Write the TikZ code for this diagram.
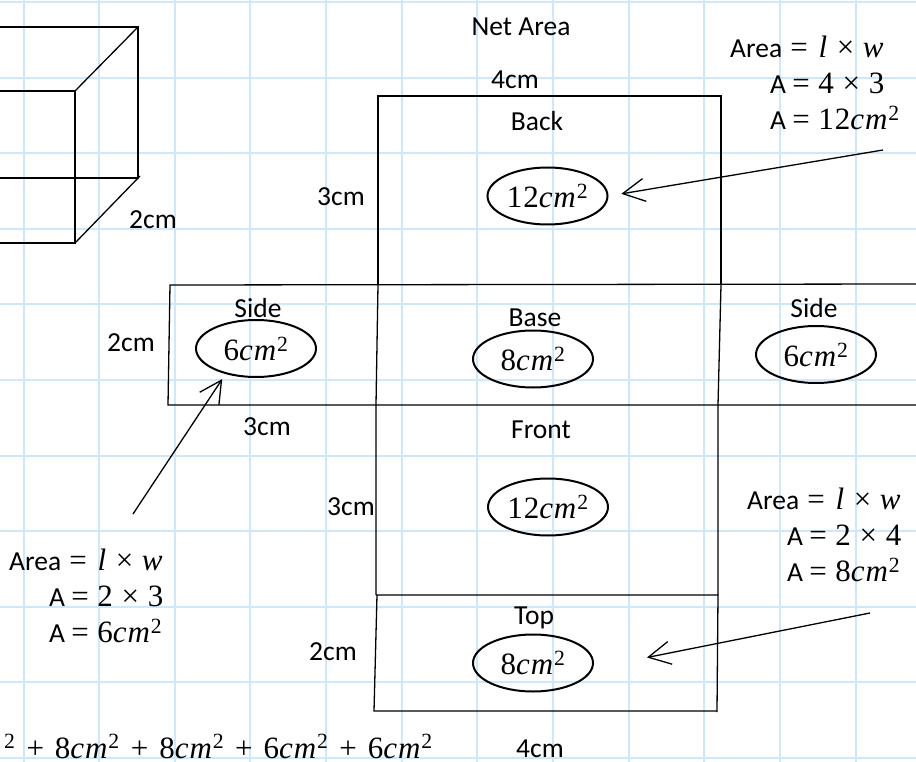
\documentclass[tikz,border=0pt]{standalone}
\usepackage{fontspec}
\setmainfont{Carlito}
\newfontfamily\mfont[Scale=1.127,LetterSpace=3]{Liberation Serif}
\usetikzlibrary{shapes.geometric,arrows.meta}

\definecolor{gridblue}{RGB}{204,232,255}

\newcommand{\sq}[1]{{\mfont #1\textit{cm}\textsuperscript{2}}}
\newcommand{\arealine}{Area {\mfont\hspace{2pt}=\hspace{2pt} \textit{l} × \textit{w}}}
\newcommand{\plusgap}{{\mfont\hspace{11pt}+\hspace{11pt}}}

\tikzset{
	txt/.style={inner sep=0pt,font=\fontsize{27.5}{36}\selectfont},
	calc/.style={txt,anchor=west,align=left},
	oval/.style={shape=ellipse,draw=black,line width=2pt,inner sep=0pt,minimum width=120pt,minimum height=57pt,font=\fontsize{27.5}{36}\selectfont},
	outline/.style={draw=black,line width=1.3pt},
	pointer/.style={draw=black,line width=1.3pt,-{Straight Barb[length=22pt,width=23pt,line width=1.3pt]}}
}

\begin{document}
\begin{tikzpicture}[x=1pt,y=-1pt]
	\useasboundingbox (0,0) rectangle (916,762);
	\fill[white] (0,0) rectangle (916,762);

	\foreach \k in {0,...,11}
		\draw[gridblue,line width=2pt] ({23.5+75.65*\k},0) -- ({23.5+75.65*\k},762);
	\foreach \k in {0,...,10}
		\draw[gridblue,line width=2pt] (0,{2+75.6*\k}) -- (916,{2+75.6*\k});

	% cuboid
	\path[outline] (0,27) -- (138,27) -- (138,178) -- (0,178);
	\path[outline] (0,91) -- (75,91) -- (75,243) -- (0,243);
	\path[outline] (75,91) -- (138,27);
	\path[outline] (75,243) -- (140,176);

	% net
	\path[outline] (378,285) -- (378,96) -- (721,96) -- (721,285);
	\path[outline] (916,284) -- (170,285) -- (168,405) -- (916,405);
	\path[outline] (378,285) -- (376,405) -- (376,595);
	\path[outline] (721,285) -- (718,405) -- (718,595);
	\path[outline] (376,595) -- (718,595) -- (717,712);
	\path[outline] (377,595) -- (374,711) -- (717,711);

	\node[txt] (netTitle) at (521,27) {Net Area};
	\node[txt] (backW) at (515,80) {4cm};
	\node[txt] (backName) at (537,121) {Back};
	\node[txt] (backH) at (341,197) {3cm};
	\node[txt] (sideLName) at (258,308) {Side};
	\node[txt] (sideLH) at (131,343) {2cm};
	\node[txt] (sideLW) at (267,427) {3cm};
	\node[txt] (baseName) at (535,318) {Base};
	\node[txt] (sideRName) at (814,308) {Side};
	\node[txt] (frontName) at (541,430) {Front};
	\node[txt] (frontH) at (351,507) {3cm};
	\node[txt] (topName) at (534,618) {Top};
	\node[txt] (topH) at (333,652) {2cm};
	\node[txt] (topW) at (540,749) {4cm};
	\node[txt] (cubeD) at (153,220) {2cm};

	\node[oval] (backO) at (547.5,196) {\sq{12}};
	\node[oval] (sideLO) at (256,348.5) {\sq{6}};
	\node[oval] (baseO) at (533,359) {\sq{8}};
	\node[oval] (sideRO) at (816,354.5) {\sq{6}};
	\node[oval] (frontO) at (548,507) {\sq{12}};
	\node[oval] (topO) at (533,663) {\sq{8}};

	\node[calc] (backCalc) at (730,83) {\arealine\\\hspace*{40pt}A {\mfont = 4 × 3}\\\hspace*{40pt}A {\mfont = \sq{12}}};
	\node[calc] (sideCalc) at (9,596) {\arealine\\\hspace*{40pt}A {\mfont = 2 × 3}\\\hspace*{40pt}A {\mfont = \sq{6}}};
	\node[calc] (topCalc) at (747,535) {\arealine\\\hspace*{40pt}A {\mfont = 2 × 4}\\\hspace*{40pt}A {\mfont = \sq{8}}};

	\node[txt,anchor=base east] (total) at (433,758) {{\mfont\textsuperscript{2}}\plusgap\sq{8}\plusgap\sq{8}\plusgap\sq{6}\plusgap\sq{6}};

	\coordinate (backFrom) at (883,150);
	\coordinate (sideFrom) at (133,514);
	\coordinate (topFrom) at (870,613);

	\path[pointer,shorten >=13pt] (backFrom) -- (backO.east);
	\path[pointer,shorten >=6pt] (sideFrom) -- (sideLO.220);
	\path[pointer,shorten >=55pt] (topFrom) -- (topO.-5);
\end{tikzpicture}
\end{document}
